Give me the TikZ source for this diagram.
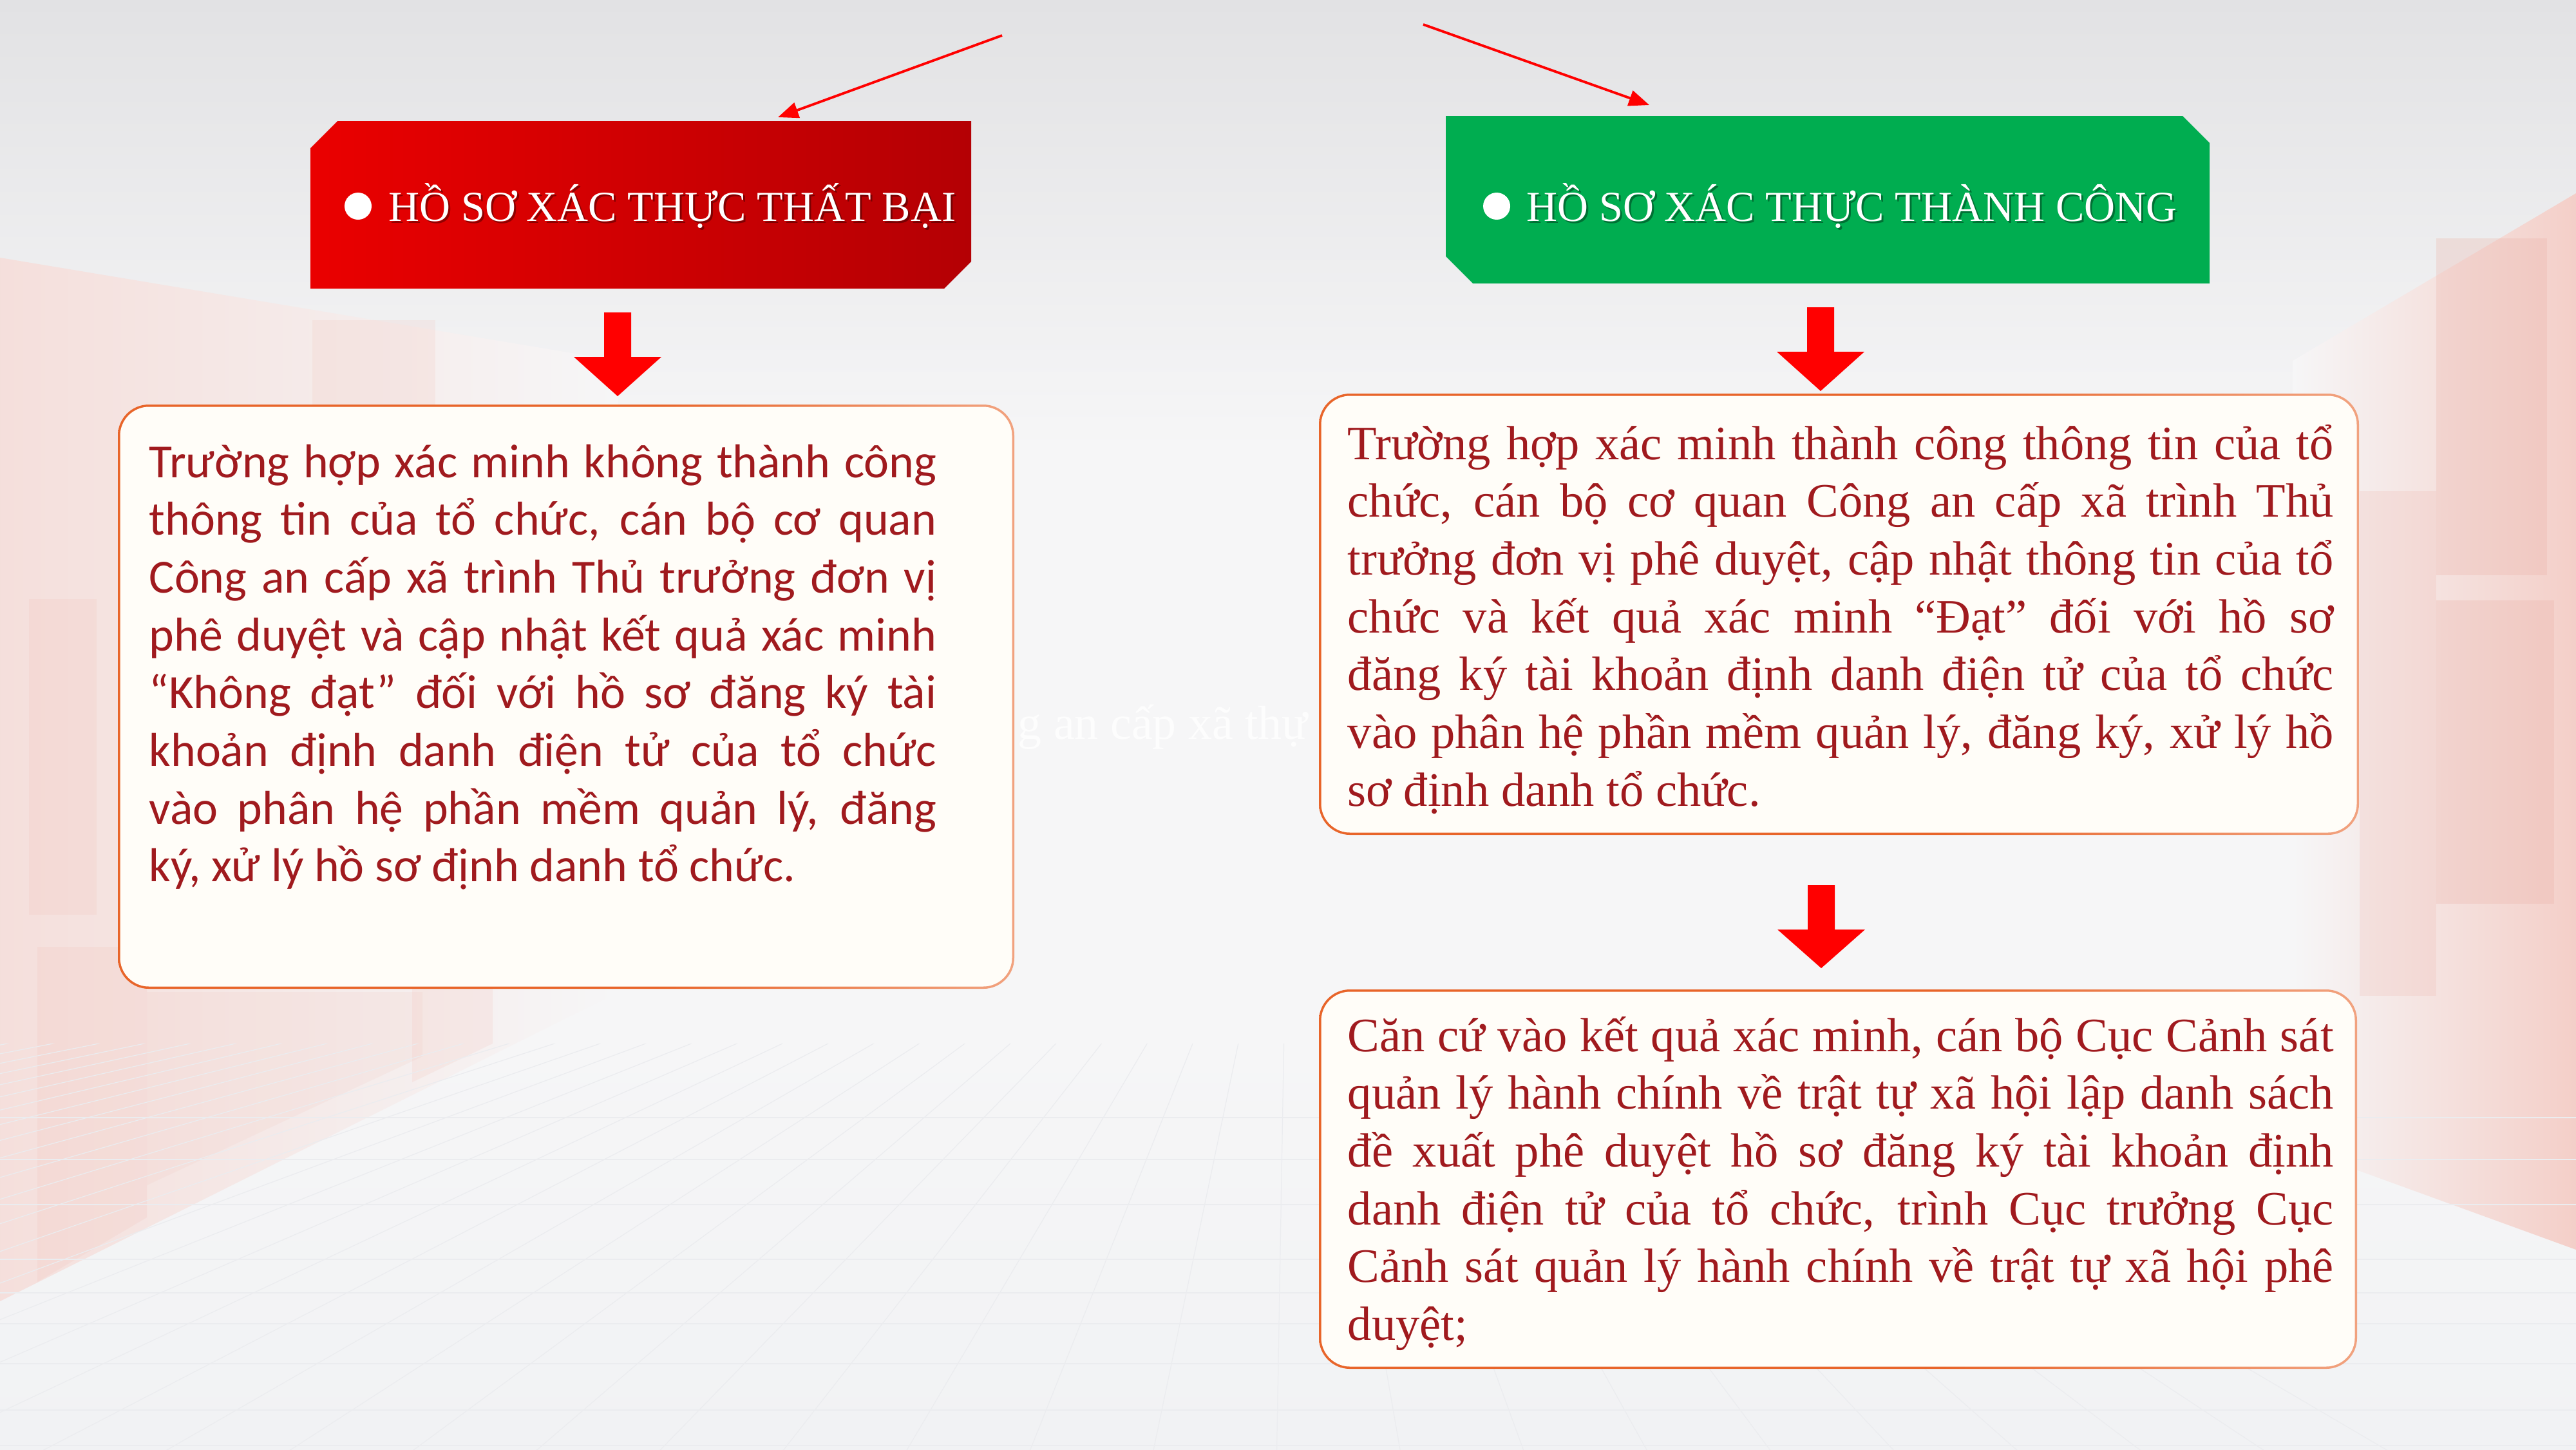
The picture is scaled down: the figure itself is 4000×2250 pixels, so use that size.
\documentclass[tikz,border=0pt]{standalone}
\usepackage{fontspec}
\setmainfont{Liberation Serif}
\newfontfamily\calib{Carlito}
\usetikzlibrary{arrows.meta}
\definecolor{txtred}{RGB}{160,26,30}
\definecolor{brd}{RGB}{232,101,42}
\definecolor{boxfill}{RGB}{255,253,248}
\definecolor{redL}{RGB}{234,0,0}
\definecolor{redR}{RGB}{180,0,4}
\definecolor{grn}{RGB}{0,173,80}
\definecolor{arrred}{RGB}{255,0,0}
\definecolor{bgtop}{RGB}{226,226,228}
\definecolor{bgmid}{RGB}{246,246,247}
\definecolor{bgbot}{RGB}{241,242,244}
\definecolor{pinkA}{RGB}{243,200,192}
\definecolor{pinkB}{RGB}{236,176,166}
\definecolor{gridc}{RGB}{235,236,239}
\definecolor{ghost}{RGB}{253,253,253}
\pgfdeclarehorizontalshading{brdshade}{100bp}{color(0bp)=(brd); color(55bp)=(brd); color(85bp)=(brd!40!white); color(100bp)=(brd!8!white)}
\newlength\lwL \setlength\lwL{12.22cm}
\newlength\lwR \setlength\lwR{15.30cm}
\newcommand\jl[2]{\makebox[#1][s]{#2}\\}
\newcommand\blockarr[4]{\fill[blockarrow] (#1-21,#2) -- (#1+21,#2) -- (#1+21,#3) -- (#1+68,#3) -- (#1,#4) -- (#1-68,#3) -- (#1-21,#3) -- cycle;}
\newcommand\txtbox[4]{\shade[boxborder] (#1,#2) rectangle (#3,#4); \fill[boxinner] (#1+3.5,#2+3.5) rectangle (#3-3.5,#4-3.5);}
\tikzset{
  boxtext/.style={anchor=base west, inner sep=0pt, text=txtred},
  hdrtext/.style={anchor=base west, inner sep=0pt, text=white, font=\fontsize{18.9pt}{22pt}\selectfont},
  hdrshadow/.style={anchor=base west, inner sep=0pt, text=black, opacity=0.35, font=\fontsize{18.9pt}{22pt}\selectfont},
  thinarrow/.style={draw=arrred, line width=1.1pt, -{Triangle[length=9pt,width=7pt]}},
  blockarrow/.style={fill=arrred},
  boxborder/.style={shading=brdshade, rounded corners=0.48cm},
  boxinner/.style={fill=boxfill, rounded corners=0.45cm},
  gridline/.style={draw=gridc, line width=0.35pt},
}
\begin{document}
\begin{tikzpicture}[x=0.01cm,y=-0.01cm]
\useasboundingbox (0,0) rectangle (4000,2250);
\clip (0,0) rectangle (4000,2250);
% ---------- background ----------
\shade[top color=bgtop, bottom color=bgmid] (0,0) rectangle (4000,700);
\fill[bgmid] (0,699) rectangle (4000,1601);
\shade[top color=bgmid, bottom color=bgbot] (0,1600) rectangle (4000,2250);
% left pink wall
\shade[left color=pinkA!50!bgmid, right color=bgmid] (0,400) -- (960,560) -- (960,1540) -- (0,2020) -- cycle;
\fill[pinkA, opacity=0.25] (45,930) rectangle (150,1420);
\fill[pinkA, opacity=0.25] (58,1470) -- (228,1470) -- (228,1890) -- (58,1990) -- cycle;
\fill[pinkA, opacity=0.22] (485,497) rectangle (676,638);
\fill[pinkA, opacity=0.22] (640,1530) -- (765,1530) -- (765,1620) -- (640,1680) -- cycle;
\fill[pinkA, opacity=0.18] (228,1540) -- (656,1540) -- (656,1640) -- (228,1840) -- cycle;
% right pink wall
\shade[left color=bgmid, right color=pinkA!85!bgmid] (3560,560) -- (4000,300) -- (4000,1940) -- (3560,1780) -- cycle;
\fill[pinkB, opacity=0.28] (3783,370) rectangle (3955,893);
\fill[pinkB, opacity=0.28] (3783,932) rectangle (3966,1403);
\fill[pinkB, opacity=0.2] (3664,762) rectangle (3783,1546);
% floor grid
\begin{scope}
  \clip (0,1620) rectangle (4000,2250);
  \foreach \k in {-12,...,28} { \draw[gridline] (2000,1250) -- (\k*220-2200,2400); }
  \foreach \yy in {1735,1800,1870,1955,2007,2055,2117,2189,2244} { \draw[gridline] (0,\yy) -- (4000,\yy); }
\end{scope}
% faint text between the boxes
\node[anchor=base west, inner sep=0pt, text=ghost, font=\fontsize{21pt}{25pt}\selectfont] (ghosttxt) at (1580,1147) {g an cấp xã thự};
% ---------- boxes ----------
\txtbox{183}{628}{1575}{1535}
\txtbox{2048}{611}{3663}{1296}
\txtbox{2048}{1536}{3660}{2125}
% left text
\node[boxtext, font=\calib\fontsize{21pt}{25.5pt}\selectfont] (lefttxt) at (231,741) {\parbox[t]{\lwL}{%
\jl{\lwL}{Trường hợp xác minh không thành công}
\jl{\lwL}{thông tin của tổ chức, cán bộ cơ quan}
\jl{\lwL}{Công an cấp xã trình Thủ trưởng đơn vị}
\jl{\lwL}{phê duyệt và cập nhật kết quả xác minh}
\jl{\lwL}{“Không đạt” đối với hồ sơ đăng ký tài}
\jl{\lwL}{khoản định danh điện tử của tổ chức}
\jl{\lwL}{vào phân hệ phần mềm quản lý, đăng}
ký, xử lý hồ sơ định danh tổ chức.}};
% right text 1
\node[boxtext, font=\fontsize{21.2pt}{25.5pt}\selectfont] (r1txt) at (2092,713) {\parbox[t]{\lwR}{%
\jl{\lwR}{Trường hợp xác minh thành công thông tin của tổ}
\jl{\lwR}{chức, cán bộ cơ quan Công an cấp xã trình Thủ}
\jl{\lwR}{trưởng đơn vị phê duyệt, cập nhật thông tin của tổ}
\jl{\lwR}{chức và kết quả xác minh “Đạt” đối với hồ sơ}
\jl{\lwR}{đăng ký tài khoản định danh điện tử của tổ chức}
\jl{\lwR}{vào phân hệ phần mềm quản lý, đăng ký, xử lý hồ}
sơ định danh tổ chức.}};
% right text 2
\node[boxtext, font=\fontsize{21.2pt}{25.5pt}\selectfont] (r2txt) at (2092,1632) {\parbox[t]{\lwR}{%
\jl{\lwR}{Căn cứ vào kết quả xác minh, cán bộ Cục Cảnh sát}
\jl{\lwR}{quản lý hành chính về trật tự xã hội lập danh sách}
\jl{\lwR}{đề xuất phê duyệt hồ sơ đăng ký tài khoản định}
\jl{\lwR}{danh điện tử của tổ chức, trình Cục trưởng Cục}
\jl{\lwR}{Cảnh sát quản lý hành chính về trật tự xã hội phê}
duyệt;}};
% ---------- headers ----------
\shade[left color=redL, right color=redR] (482,230) -- (524,188) -- (1508,188) -- (1508,406) -- (1466,448) -- (482,448) -- cycle;
\fill[grn] (2245,180) -- (3389,180) -- (3431,222) -- (3431,440) -- (2287,440) -- (2245,398) -- cycle;
\fill[white] (556,320) circle (21);
\fill[white] (2324,320) circle (21);
\node[hdrshadow] (redhdrsh) at (606,346) {HỒ SƠ XÁC THỰC THẤT BẠI};
\node[hdrtext] (redhdr) at (603,343) {HỒ SƠ XÁC THỰC THẤT BẠI};
\node[hdrshadow] (grnhdrsh) at (2373,346) {HỒ SƠ XÁC THỰC THÀNH CÔNG};
\node[hdrtext] (grnhdr) at (2370,343) {HỒ SƠ XÁC THỰC THÀNH CÔNG};
% ---------- arrows ----------
\coordinate (ra0) at (1556,55);
\coordinate (ra1) at (1208,182);
\coordinate (ga0) at (2210,38);
\coordinate (ga1) at (2561,163);
\draw[thinarrow] (ra0) -- (ra1);
\draw[thinarrow] (ga0) -- (ga1);
\blockarr{959}{485}{554}{615}
\blockarr{2827}{477}{546}{607}
\blockarr{2828}{1374}{1443}{1503}
\end{tikzpicture}
\end{document}
